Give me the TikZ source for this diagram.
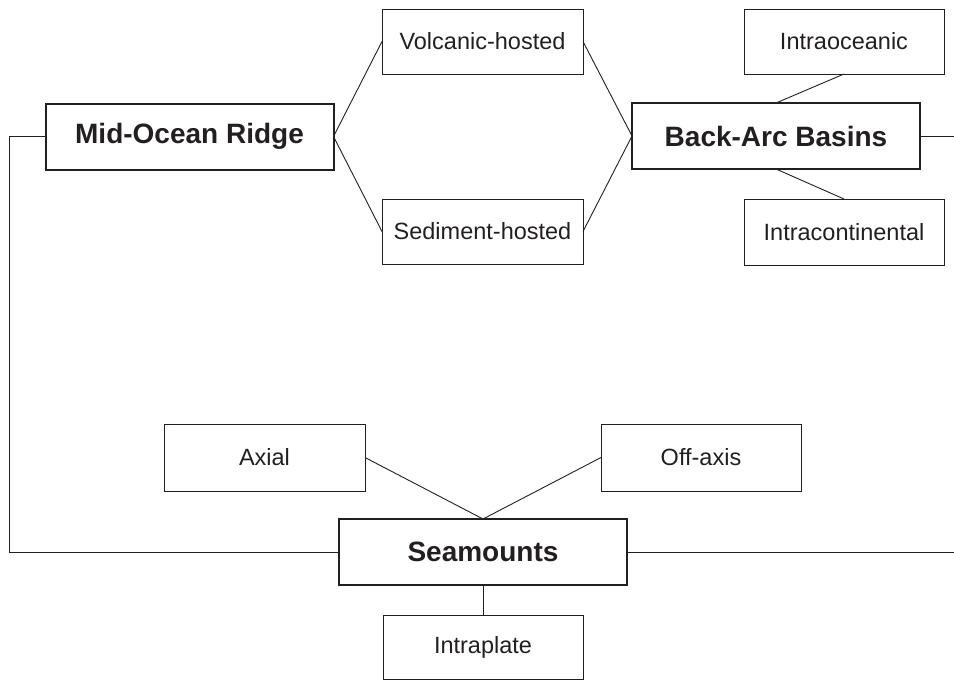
\documentclass[tikz,border=0pt]{standalone}
\usepackage{fontspec}
\setmainfont{Liberation Sans}
\definecolor{ink}{HTML}{231F20}
\begin{document}
\begin{tikzpicture}[x=1pt,y=-1pt,
  mainbox/.style={draw=ink,line width=2pt,inner sep=0pt,outer sep=0pt,minimum width=288pt,minimum height=66pt,font=\fontsize{28}{32}\selectfont\bfseries,text=ink},
  subbox/.style={draw=ink,line width=0.9pt,inner sep=0pt,outer sep=0pt,minimum width=201pt,minimum height=65pt,font=\fontsize{23.5}{28}\selectfont,text=ink},
  link/.style={draw=ink,line width=0.9pt}]
\useasboundingbox (0,0) rectangle (954,680);
\node[mainbox] (mor) at (189.5,136.5) {Mid-Ocean Ridge};
\node[subbox] (volc) at (482.5,41.5) {Volcanic-hosted};
\node[subbox] (sed) at (482.5,231.5) {Sediment-hosted};
\node[mainbox] (bab) at (776,136) {Back-Arc Basins};
\node[subbox,minimum width=200pt] (ocean) at (844,41.5) {Intraoceanic};
\node[subbox,minimum width=200pt,minimum height=66pt] (cont) at (844,232) {Intracontinental};
\node[subbox,minimum height=67pt] (axial) at (264.5,457.5) {Axial};
\node[subbox,minimum width=200pt,minimum height=67pt] (off) at (701,457.5) {Off-axis};
\node[mainbox] (sea) at (483,552) {Seamounts};
\node[subbox,minimum width=200pt,minimum height=64pt] (intra) at (483,647) {Intraplate};
\coordinate (lc) at (9,552);
\coordinate (re1) at (955,136);
\coordinate (re2) at (955,552);
\draw[link] (mor.east) -- (volc.west);
\draw[link] (mor.east) -- (sed.west);
\draw[link] (volc.east) -- (bab.west);
\draw[link] (sed.east) -- (bab.west);
\draw[link] (bab.north) -- (ocean.south);
\draw[link] (bab.south) -- (cont.north);
\draw[link] (bab.east) -- (re1);
\draw[link] (mor.west) -| (lc) -- (sea.west);
\draw[link] (sea.east) -- (re2);
\draw[link] (axial.east) -- (sea.north);
\draw[link] (off.west) -- (sea.north);
\draw[link] (sea.south) -- (intra.north);
\end{tikzpicture}
\end{document}
